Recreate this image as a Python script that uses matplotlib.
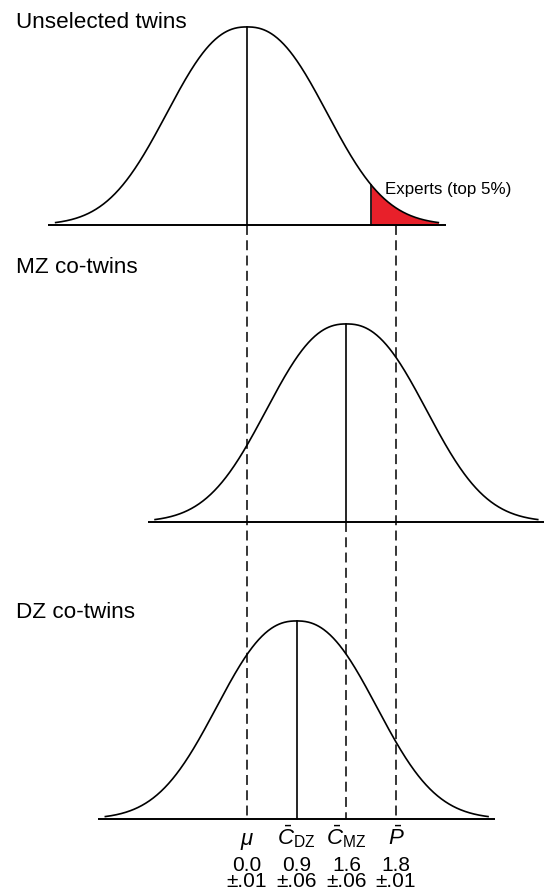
import numpy as np
import matplotlib.pyplot as plt

plt.rcParams['font.family'] = ['Liberation Sans', 'DejaVu Sans']
plt.rcParams['mathtext.fontset'] = 'custom'
plt.rcParams['mathtext.rm'] = 'Liberation Sans'
plt.rcParams['mathtext.it'] = 'Liberation Sans:italic'

# panels, top to bottom, and the marker each curve is centred on
panel_titles = ["Unselected twins", "MZ co-twins", "DZ co-twins"]
panel_centre = [0, 2, 1]

# markers along the bottom (schematic positions = index)
markers = [r"$\mu$", r"$\bar{C}_{\rm DZ}$", r"$\bar{C}_{\rm MZ}$", r"$\bar{P}$"]
means = ["0.0", "0.9", "1.6", "1.8"]
errors = ["±.01", "±.06", "±.06", "±.01"]

# dashed guides: marker index and the panel where the guide starts
guide_marker = [0, 2, 3]
guide_from = [0, 1, 0]

expert_label = "Experts (top 5%)"
expert_cut = 2.5


def curve(x, c):
    # bell shape used in the schematic
    return np.exp(-(np.abs(x - c) / 2.046) ** 2.35)


gap = 1.5
fig = plt.figure(figsize=(5.44, 8.93), dpi=100)
ax = fig.add_axes([0, 0, 1, 1])
ax.set_xlim(-4.97, 5.976)
ax.set_ylim(-3.374, 1.136)
ax.axis('off')

lw = 1.2
for k, (title, c) in enumerate(zip(panel_titles, panel_centre)):
    y0 = -k * gap
    x = np.linspace(c - 3.85, c + 3.85, 600)
    y = y0 + curve(x, c)
    ax.plot([c - 4, c + 4], [y0, y0], color='black', lw=1.4, solid_capstyle='butt')
    if k == 0:
        xr = x[x >= expert_cut]
        ax.fill_between(xr, y0, y0 + curve(xr, c), color='#e8202a', lw=0)
        ax.plot([expert_cut, expert_cut], [y0, y0 + curve(expert_cut, c)],
                color='black', lw=lw)
        ax.text(2.78, y0 + 0.177, expert_label, fontsize=12.2,
                ha='left', va='center')
    ax.plot(x, y, color='black', lw=lw)
    ax.plot([c, c], [y0, y0 + 1], color='black', lw=lw)

fig.text(0.029, 0.975, panel_titles[0], fontsize=16.2, ha='left', va='center')
fig.text(0.029, 0.700, panel_titles[1], fontsize=16.2, ha='left', va='center')
fig.text(0.029, 0.314, panel_titles[2], fontsize=16.2, ha='left', va='center')

for m, p in zip(guide_marker, guide_from):
    ax.plot([m, m], [-p * gap, -2 * gap], color='black', lw=1.1,
            dashes=(6.5, 3.5))

for i, (lab, mu, err) in enumerate(zip(markers, means, errors)):
    ax.text(i, -3.131, lab, fontsize=16, ha='center', va='baseline')
    ax.text(i, -3.188, mu + "\n" + err, fontsize=15, ha='center', va='top',
            linespacing=0.82, multialignment='center')

fig.savefig('out.png', dpi=100)
plt.close(fig)
